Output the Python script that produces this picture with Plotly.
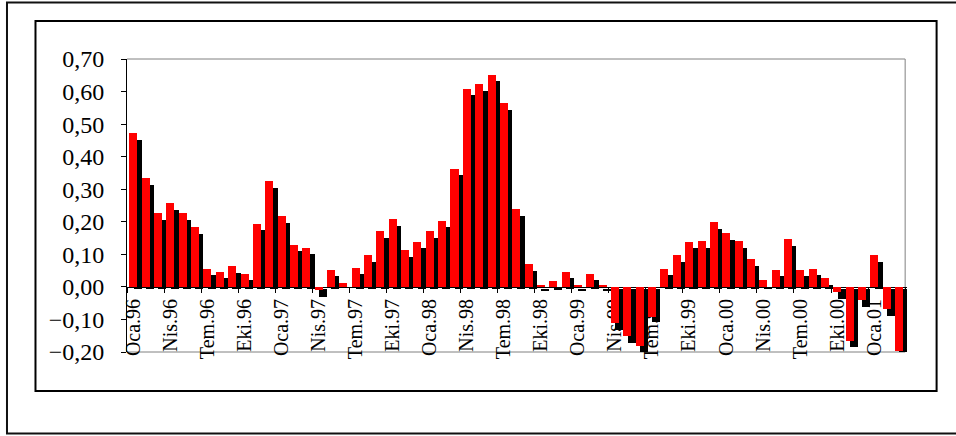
import plotly.graph_objects as go

# Monthly series, Oca.96 .. Mar.01 (63 months)
month_names = ["Oca", "Şub", "Mar", "Nis", "May", "Haz",
               "Tem", "Ağu", "Eyl", "Eki", "Kas", "Ara"]
years = ["96", "97", "98", "99", "00", "01"]
months = [f"{m}.{y}" for y in years for m in month_names][:63]

red_values = [
    0.473, 0.335, 0.228, 0.257, 0.228, 0.185, 0.056, 0.047, 0.064, 0.041, 0.194, 0.324,
    0.219, 0.128, 0.118, -0.010, 0.051, 0.011, 0.059, 0.098, 0.171, 0.209, 0.112, 0.137,
    0.171, 0.203, 0.363, 0.608, 0.624, 0.652, 0.565, 0.238, 0.070, 0.007, 0.017, 0.047,
    0.007, 0.041, 0.007, -0.112, -0.150, -0.183, -0.091, 0.056, 0.099, 0.137, 0.142, 0.200,
    0.167, 0.142, 0.085, 0.021, 0.051, 0.147, 0.051, 0.056, 0.027, -0.015, -0.166, -0.040,
    0.099, -0.069, -0.198,
]
black_values = [
    0.459, 0.321, 0.214, 0.244, 0.214, 0.171, 0.042, 0.033, 0.051, 0.027, 0.183, 0.312,
    0.204, 0.116, 0.107, -0.025, 0.039, 0.000, 0.048, 0.085, 0.158, 0.195, 0.100, 0.125,
    0.158, 0.192, 0.351, 0.597, 0.609, 0.640, 0.551, 0.226, 0.057, -0.004, 0.006, 0.034,
    -0.004, 0.027, -0.004, -0.126, -0.164, -0.200, -0.101, 0.042, 0.085, 0.125, 0.128, 0.186,
    0.152, 0.128, 0.071, 0.008, 0.039, 0.134, 0.039, 0.042, 0.014, -0.030, -0.179, -0.054,
    0.085, -0.082, -0.210,
]

y_ticks = [-0.2, -0.1, 0.0, 0.1, 0.2, 0.3, 0.4, 0.5, 0.6, 0.7]
label_step = 3

x = list(range(len(months)))
label_idx = x[::label_step]

# category slots run from -0.5 to n-0.5; the last shadow bar pokes a little past
x_lo, x_hi = -0.5, len(months) - 0.5
x_view_hi = x_hi + 0.15

# plot-area geometry in pixels
FIG_W, FIG_H = 956, 436
PL, PT, PB = 127, 59, 352
SLOT = 12.35
PR = PL + SLOT * (x_view_hi - x_lo)
PW, PH = PR - PL, PB - PT


def px_x(v):
    return (v - PL) / PW


def px_y(v):
    return (PB - v) / PH


FONT = "Liberation Serif, Times New Roman, serif"
y_min, y_max = y_ticks[0], y_ticks[-1]

fig = go.Figure()
fig.add_trace(go.Bar(
    x=x, y=black_values, base=-0.007, width=0.65, offset=0.04,
    marker=dict(color="#000000", line=dict(width=0)), name="seri 2",
))
fig.add_trace(go.Bar(
    x=x, y=red_values, width=0.65, offset=-0.31,
    marker=dict(color="#ff0000", line=dict(width=0)), name="seri 1",
))

gray = dict(color="#808080", width=1)
shapes = [
    # plot-area border (top, right, bottom)
    dict(type="line", xref="x", yref="paper", x0=x_lo, x1=x_hi, y0=1, y1=1,
         line=gray, layer="below"),
    dict(type="line", xref="x", yref="paper", x0=x_lo, x1=x_hi, y0=0, y1=0,
         line=gray, layer="below"),
    dict(type="line", xref="x", yref="paper", x0=x_hi, x1=x_hi, y0=0, y1=1,
         line=gray, layer="below"),
    # inner chart frame
    dict(type="rect", xref="paper", yref="paper",
         x0=px_x(35.5), x1=px_x(936.5), y0=px_y(391), y1=px_y(21),
         line=dict(color="#000000", width=2)),
    # outer page frame
    dict(type="rect", xref="paper", yref="paper",
         x0=px_x(7), x1=px_x(970), y0=px_y(433.5), y1=px_y(2.5),
         line=dict(color="#111111", width=2)),
]

fig.update_layout(
    width=FIG_W, height=FIG_H,
    margin=dict(l=PL, r=FIG_W - PR, t=PT, b=FIG_H - PB, pad=0),
    paper_bgcolor="white", plot_bgcolor="white",
    barmode="overlay", bargap=0,
    showlegend=False,
    separators=",.",
    font=dict(family=FONT, color="black"),
    shapes=shapes,
    xaxis=dict(
        range=[x_lo, x_view_hi],
        tickmode="array", tickvals=label_idx,
        ticktext=[months[i] for i in label_idx],
        tickangle=-90, ticks="", ticklabelstandoff=3,
        tickfont=dict(family=FONT, size=20, color="black"),
        showgrid=False, zeroline=False,
        showline=True, linecolor="black", linewidth=1,
        anchor="free", position=(0 - y_min) / (y_max - y_min),
        layer="below traces",
        minor=dict(tick0=-0.5, dtick=label_step, ticks="outside",
                   ticklen=5, tickcolor="black", tickwidth=1, showgrid=False),
    ),
    yaxis=dict(
        range=[y_min, y_max],
        tickmode="array", tickvals=y_ticks, tickformat=".2f",
        ticks="outside", ticklen=5, tickcolor="black",
        ticklabelstandoff=12,
        tickfont=dict(family=FONT, size=24, color="black"),
        showgrid=False, zeroline=False,
        showline=True, linecolor="black", linewidth=1,
    ),
)

fig.write_html("out.html")
